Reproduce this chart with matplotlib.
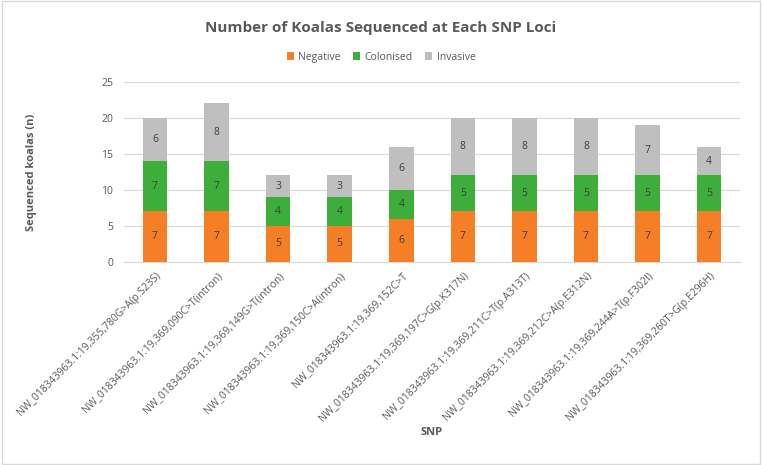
import matplotlib.pyplot as plt
from matplotlib.patches import Rectangle
import numpy as np

plt.rcParams['font.family'] = ['Open Sans', 'DejaVu Sans']

snps = ['NW_018343963.1:19,355,780G>A(p.S23S)',
        'NW_018343963.1:19,369,090C>T(intron)',
        'NW_018343963.1:19,369,149G>T(intron)',
        'NW_018343963.1:19,369,150C>A(intron)',
        'NW_018343963.1:19,369,152C>T',
        'NW_018343963.1:19,369,197C>G(p.K317N)',
        'NW_018343963.1:19,369,211C>T(p.A313T)',
        'NW_018343963.1:19,369,212C>A(p.E312N)',
        'NW_018343963.1:19,369,244A>T(p.F302I)',
        'NW_018343963.1:19,369,260T>G(p.E296H)']
negative = [7, 7, 5, 5, 6, 7, 7, 7, 7, 7]
colonised = [7, 7, 4, 4, 4, 5, 5, 5, 5, 5]
invasive = [6, 8, 3, 3, 6, 8, 8, 8, 7, 4]

series = [('Negative', negative, '#F57F26'),
          ('Colonised', colonised, '#3DAE3A'),
          ('Invasive', invasive, '#BFBFBF')]

txt = '#595959'

fig = plt.figure(figsize=(7.62, 4.65), dpi=100)
ax = fig.add_axes([0.163, 0.437, 0.808, 0.387])

x = np.arange(len(snps))
bottom = np.zeros(len(snps))
for name, vals, col in series:
    bars = ax.bar(x, vals, 0.4, bottom=bottom, color=col, label=name, zorder=3)
    ax.bar_label(bars, labels=[str(v) for v in vals], label_type='center',
                 fontsize=7.5, color='#404040')
    bottom += np.array(vals)

ax.set_xlim(-0.5, len(snps) - 0.5)
ax.set_ylim(0, 25)
ax.set_yticks(range(0, 26, 5))
ax.yaxis.grid(True, color='#D9D9D9', linewidth=0.8, zorder=0)
for s in ['top', 'right', 'left']:
    ax.spines[s].set_visible(False)
ax.spines['bottom'].set_color('#D9D9D9')
ax.tick_params(axis='both', length=0, labelsize=7.5, labelcolor=txt)
ax.set_xticks(x)
ax.set_xticklabels(snps, rotation=45, ha='right', rotation_mode='anchor',
                   fontsize=7.5)
ax.tick_params(axis='x', pad=6)
ax.tick_params(axis='y', pad=8)

ax.set_ylabel('Sequenced koalas (n)', fontsize=8, fontweight='bold', color=txt)
ax.yaxis.set_label_coords(-0.141, 0.5)
fig.text(0.552, 0.065, 'SNP', fontsize=8, fontweight='bold', color=txt)

fig.suptitle('Number of Koalas Sequenced at Each SNP Loci', y=0.94, va='center',
             fontsize=11, fontweight='bold', color=txt)
ax.legend(loc='center', bbox_to_anchor=(0.5, 0.877), bbox_transform=fig.transFigure,
          ncol=3, frameon=False, fontsize=7.5, handlelength=0.7, handleheight=0.7,
          columnspacing=1.2, handletextpad=0.4, labelcolor=txt)

fig.patches.append(Rectangle((0.003, 0.003), 0.994, 0.994, transform=fig.transFigure,
                             fill=False, edgecolor='#D9D9D9', linewidth=1))

fig.savefig('out.png', dpi=100)
